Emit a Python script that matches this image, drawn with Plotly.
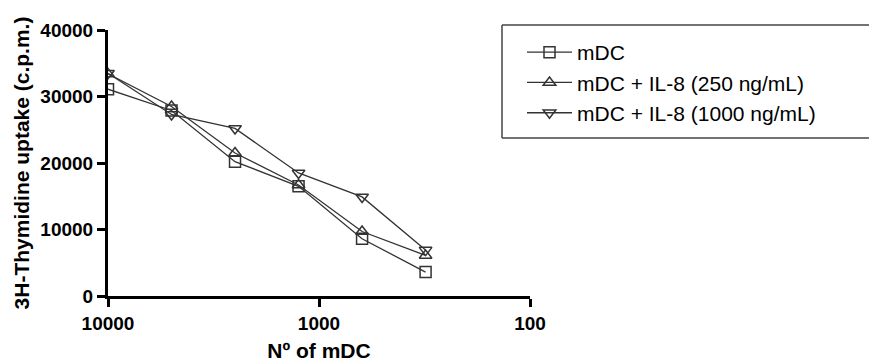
import plotly.graph_objects as go

cells = [10000, 5000, 2500, 1250, 625, 312.5]
mdc = [31100, 27900, 20200, 16500, 8600, 3600]
il8_250 = [33400, 28500, 21500, 16700, 9700, 6100]
il8_1000 = [33500, 27300, 25200, 18500, 14900, 6900]
series_names = ["mDC", "mDC + IL-8 (250 ng/mL)", "mDC + IL-8 (1000 ng/mL)"]
symbols = ["square-open", "triangle-up-open", "triangle-down-open"]
x_ticks = [10000, 1000, 100]
x_tick_text = ["10000", "1000", "100"]
y_ticks = [0, 10000, 20000, 30000, 40000]

fig = go.Figure()
for name, vals, sym in zip(series_names, [mdc, il8_250, il8_1000], symbols):
    fig.add_trace(go.Scatter(
        x=cells, y=vals, name=name, mode="lines+markers",
        line=dict(color="#333333", width=1.3),
        marker=dict(symbol=sym, size=11, color="#333333", line=dict(width=1.5, color="#333333")),
    ))

# page body has an 8px margin: compensate so the picture lines up
OFF = 8
PL, PR, PT, PB = 108 - OFF, 530 - OFF, 30 - OFF, 296 - OFF
W, H = 877 - OFF, 364 - OFF
pw, ph = PR - PL, PB - PT

bx0 = (502 - OFF - PL) / pw
bx1 = 3.0
by0 = (PB - (138 - OFF)) / ph
by1 = (PB - (25 - OFF)) / ph
box_line = dict(color="#444444", width=1.5)

font_fam = "Liberation Sans, Arial, sans-serif"
fig.update_layout(
    width=W, height=H,
    margin=dict(l=PL, r=W - PR, t=PT, b=H - PB, autoexpand=False),
    plot_bgcolor="white", paper_bgcolor="white",
    font=dict(family=font_fam, color="black"),
    showlegend=True,
    legend=dict(
        x=(522 - OFF - PL) / pw, y=(PB - (32 - OFF)) / ph, xanchor="left", yanchor="top",
        font=dict(size=21, family=font_fam, color="black"),
        bgcolor="rgba(0,0,0,0)", borderwidth=0, itemwidth=45,
        tracegroupgap=0,
    ),
    shapes=[
        dict(type="line", xref="paper", yref="paper", x0=bx0, x1=bx1, y0=by1, y1=by1, line=box_line),
        dict(type="line", xref="paper", yref="paper", x0=bx0, x1=bx1, y0=by0, y1=by0, line=box_line),
        dict(type="line", xref="paper", yref="paper", x0=bx0, x1=bx0, y0=by0, y1=by1, line=box_line),
    ],
)
fig.update_xaxes(
    type="log", range=[4, 2], tickvals=x_ticks, ticktext=x_tick_text, automargin=False,
    showgrid=False, zeroline=False, showline=True, linecolor="black", linewidth=3,
    ticks="outside", ticklen=8, tickwidth=3, tickcolor="black",
    tickfont=dict(size=19, family=font_fam, color="black", weight="bold"),
    title=dict(text="Nº of mDC", font=dict(size=21, family=font_fam, color="black", weight="bold"), standoff=11),
)
fig.update_yaxes(
    range=[0, 40000], tickvals=y_ticks, tickformat="d", automargin=False,
    showgrid=False, zeroline=False, showline=True, linecolor="black", linewidth=3,
    ticks="outside", ticklen=8, tickwidth=3, tickcolor="black",
    tickfont=dict(size=19, family=font_fam, color="black", weight="bold"),
    title=dict(text="3H-Thymidine uptake (c.p.m.)", font=dict(size=21, family=font_fam, color="black", weight="bold"), standoff=6),
)
fig.write_html(
    "out.html",
    post_script="document.documentElement.style.overflow='hidden';document.body.style.overflow='hidden';",
)
